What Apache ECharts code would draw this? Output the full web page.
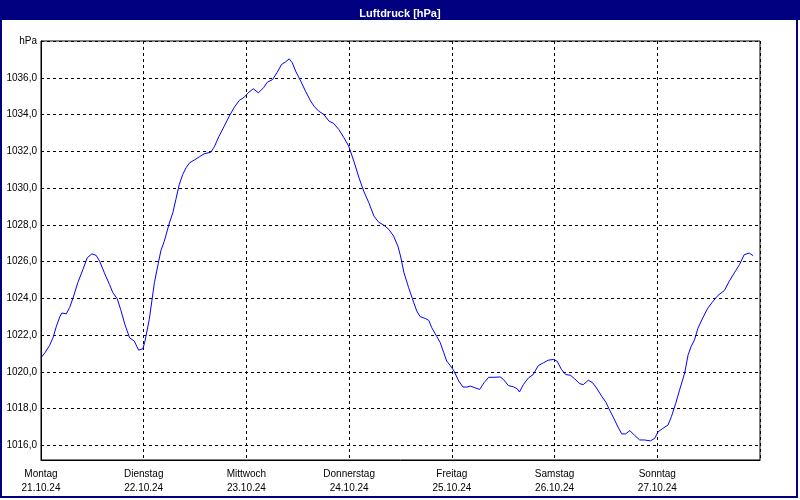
<!DOCTYPE html>
<html>
<head>
<meta charset="utf-8">
<script src="https://cdn.jsdelivr.net/npm/echarts@6/dist/echarts.min.js"></script>
<style>html,body{margin:0;padding:0;background:#fff}#c{width:800px;height:500px}</style>
</head>
<body>
<div id="c"></div>
<script>
const chartTitle = 'Luftdruck [hPa]';
const unitLabel = 'hPa';
const dayNames = ['Montag','Dienstag','Mittwoch','Donnerstag','Freitag','Samstag','Sonntag'];
const dayDates = ['21.10.24','22.10.24','23.10.24','24.10.24','25.10.24','26.10.24','27.10.24'];
// hours since Monday 21.10.24 00:00
const hours = [0,0.9,2.0,2.8,3.6,4.4,4.9,5.9,6.7,7.5,8.6,9.8,10.8,11.9,12.9,13.7,14.8,16.0,16.8,17.8,18.6,19.6,20.7,21.8,22.8,23.8,24.3,25.3,26.5,
27.4,28.0,28.8,30.0,30.8,31.5,32.3,33.1,33.9,34.7,35.8,37.0,38.1,39.7,40.5,41.6,42.8,44.0,45.1,46.3,47.5,48.4,49.6,50.8,52.0,52.9,54.1,55.2,56.2,
57.2,58.0,58.7,59.5,60.7,61.8,63.0,63.8,64.9,66.1,67.3,68.4,69.6,70.8,71.9,73.1,74.3,75.4,76.6,77.8,78.9,80.1,81.3,82.4,83.4,84.0,
84.8,85.9,87.1,87.8,88.6,89.8,90.6,91.3,92.5,93.3,94.1,94.8,95.6,96.5,97.6,98.6,99.5,100.4,101.4,102.5,103.5,104.6,105.9,107.3,108.1,109.2,110.4,111.3,
111.8,112.7,113.9,115.0,116.2,117.4,118.5,119.7,120.6,121.6,122.6,123.7,124.7,125.8,126.7,127.9,128.9,129.8,131.0,132.0,132.9,133.8,134.8,135.7,136.6,137.6,138.7,
139.9,141.0,142.4,143.4,144.2,145.3,146.5,147.3,148.3,149.2,150.4,151.2,151.9,152.7,153.5,154.6,155.8,156.8,158.1,159.7,160.8,162.0,163.2,164.3,165.5,166.4];
const pressure = [1020.76,1021.03,1021.43,1021.85,1022.48,1023.0,1023.2,1023.15,1023.5,1024.03,1024.85,1025.57,1026.2,1026.42,1026.33,1026.02,1025.39,1024.75,1024.3,1023.98,1023.4,1022.58,1021.85,1021.67,1021.18,1021.25,1021.67,1022.85,1024.85,
1025.9,1026.58,1027.1,1028.1,1028.65,1029.37,1030.18,1030.73,1031.1,1031.37,1031.52,1031.7,1031.86,1031.95,1032.24,1032.82,1033.36,1033.91,1034.37,1034.76,1034.94,1035.18,1035.4,1035.18,1035.46,1035.76,1035.9,1036.3,1036.72,
1036.87,1037.03,1036.82,1036.36,1035.81,1035.27,1034.73,1034.45,1034.18,1034.0,1033.64,1033.51,1033.18,1032.73,1032.28,1031.46,1030.56,1029.83,1029.2,1028.47,1028.14,1027.98,1027.74,1027.38,1026.83,1026.3,
1025.4,1024.58,1023.76,1023.31,1023.0,1022.9,1022.8,1022.4,1021.91,1021.58,1021.04,1020.58,1020.35,1020.04,1019.5,1019.17,1019.17,1019.22,1019.13,1019.04,1019.4,1019.7,1019.7,1019.72,1019.57,1019.25,1019.18,1019.07,
1018.9,1019.3,1019.67,1019.85,1020.34,1020.49,1020.63,1020.67,1020.58,1020.13,1019.85,1019.81,1019.62,1019.36,1019.3,1019.54,1019.4,1019.12,1018.67,1018.34,1017.9,1017.49,1017.0,1016.62,1016.62,1016.8,1016.54,
1016.29,1016.29,1016.24,1016.38,1016.74,1016.92,1017.1,1017.56,1018.28,1019.0,1019.93,1020.92,1021.37,1021.74,1022.37,1022.92,1023.46,1023.77,1024.14,1024.43,1024.92,1025.38,1025.83,1026.37,1026.46,1026.32];

const Y_MIN = 1015.2, Y_MAX = 1038;
const FONT = 'Liberation Sans';
const chart = echarts.init(document.getElementById('c'), null, {renderer: 'canvas'});
chart.setOption({
  animation: false,
  backgroundColor: '#ffffff',
  title: {
    text: chartTitle, left: 'center', top: 3, z: 10,
    textStyle: {color: '#ffffff', fontFamily: FONT, fontWeight: 'bold', fontSize: 11}
  },
  graphic: [
    {type: 'rect', z: 0, silent: true, shape: {x: 0, y: 0, width: 800, height: 20}, style: {fill: '#000080'}},
    {type: 'rect', z: 0, silent: true, shape: {x: 1, y: 1, width: 796, height: 496}, style: {fill: 'none', stroke: '#000080', lineWidth: 2}}
  ],
  grid: {left: 41, top: 41, right: 40, bottom: 40, show: true, borderColor: '#000', borderWidth: 1, backgroundColor: '#fff'},
  xAxis: {
    type: 'value', min: 0, max: 168, interval: 24,
    axisLine: {show: true, lineStyle: {color: '#000', width: 1}},
    axisTick: {show: false},
    splitLine: {show: true, lineStyle: {color: '#000', type: [3, 3], width: 1}},
    axisLabel: {
      showMaxLabel: false, margin: 7, lineHeight: 14, color: '#000', fontFamily: FONT, fontSize: 10,
      formatter: function (v) { const i = Math.round(v / 24); return i < dayNames.length ? dayNames[i] + '\n' + dayDates[i] : ''; }
    }
  },
  yAxis: {
    type: 'value', min: Y_MIN, max: Y_MAX, minInterval: 2, maxInterval: 2,
    axisLine: {show: true, lineStyle: {color: '#000', width: 1}},
    axisTick: {show: false},
    splitLine: {show: true, lineStyle: {color: '#000', type: [3, 3], width: 1}},
    axisLabel: {
      showMinLabel: false, margin: 4, color: '#000', fontFamily: FONT, fontSize: 10,
      formatter: function (v) { return v === Y_MAX ? unitLabel : v.toFixed(1).replace('.', ','); }
    }
  },
  series: [{
    type: 'line', showSymbol: false, symbol: 'none', smooth: false,
    lineStyle: {color: '#0000ff', width: 1}, z: 5,
    data: hours.map((h, i) => [h, pressure[i]])
  }]
});
</script>
</body>
</html>
